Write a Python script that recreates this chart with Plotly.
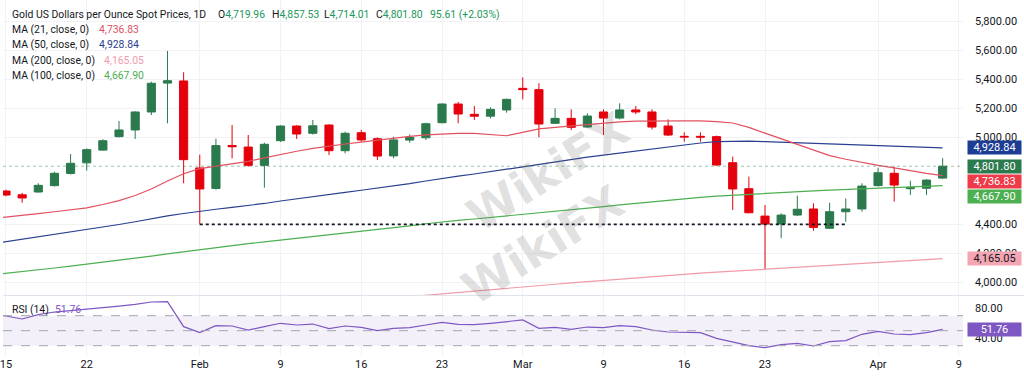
import plotly.graph_objects as go

FONT = "Roboto"
TXT = "#131722"

# ---------------- data ----------------
dates = [
    "2026-01-14", "2026-01-15", "2026-01-16", "2026-01-19", "2026-01-20", "2026-01-21", "2026-01-22",
    "2026-01-23", "2026-01-26", "2026-01-27", "2026-01-28", "2026-01-29", "2026-01-30",
    "2026-02-02", "2026-02-03", "2026-02-04", "2026-02-05", "2026-02-06",
    "2026-02-09", "2026-02-10", "2026-02-11", "2026-02-12", "2026-02-13",
    "2026-02-16", "2026-02-17", "2026-02-18", "2026-02-19", "2026-02-20",
    "2026-02-23", "2026-02-24", "2026-02-25", "2026-02-26", "2026-02-27",
    "2026-03-02", "2026-03-03", "2026-03-04", "2026-03-05", "2026-03-06",
    "2026-03-09", "2026-03-10", "2026-03-11", "2026-03-12", "2026-03-13",
    "2026-03-16", "2026-03-17", "2026-03-18", "2026-03-19", "2026-03-20",
    "2026-03-23", "2026-03-24", "2026-03-25", "2026-03-26", "2026-03-27",
    "2026-03-30", "2026-03-31", "2026-04-01", "2026-04-02",
    "2026-04-06", "2026-04-07", "2026-04-08",
]
future_dates = ["2026-04-09"]
candle_dates = dates[1:]

opens = [4631, 4605, 4624, 4668, 4752, 4825, 4913, 5006, 5052, 5176, 5375, 5390,
         4790, 4648, 4945, 4934, 4808, 4978, 5079, 5029, 5086, 4909, 5033, 4992, 4873,
         4982, 4998, 5102, 5231, 5160, 5147, 5190, 5339, 5330, 5098, 5132, 5072, 5176,
         5134, 5190, 5176, 5079, 5008, 5008, 5006, 4826, 4647, 4458, 4403, 4465, 4507,
         4374, 4488, 4507, 4668, 4753, 4647, 4650, 4719.96]
highs = [4640, 4618, 4684, 4764, 4886, 4925, 4988, 5114, 5181, 5385, 5597, 5450,
         4881, 4992, 5086, 5017, 4964, 5084, 5085, 5121, 5091, 5040, 5052, 5001, 5006,
         5022, 5102, 5236, 5245, 5217, 5208, 5268, 5415, 5374, 5201, 5194, 5167, 5194,
         5236, 5217, 5194, 5125, 5036, 5036, 5013, 4868, 4730, 4534, 4477, 4599, 4546,
         4550, 4580, 4684, 4792, 4799, 4702, 4712, 4857.53]
lows = [4595, 4550, 4620, 4662, 4745, 4771, 4908, 5000, 4990, 5155, 5098, 4684,
        4401, 4640, 4856, 4799, 4654, 4969, 4990, 5020, 4879, 4891, 4971, 4845, 4856,
        4964, 4983, 5098, 5098, 5121, 5132, 5171, 5263, 5001, 5093, 5052, 5065, 5017,
        5125, 5162, 5056, 5010, 4971, 4971, 4805, 4500, 4477, 4091, 4305, 4458, 4357,
        4368, 4419, 4488, 4662, 4557, 4603, 4603, 4714.01]
closes = [4603, 4583, 4670, 4753, 4822, 4916, 4978, 5052, 5176, 5374, 5392, 4847,
          4645, 4944, 4936, 4808, 4953, 5079, 5024, 5081, 4909, 5029, 4983, 4872, 4983,
          5001, 5095, 5231, 5162, 5147, 5194, 5263, 5330, 5093, 5132, 5070, 5148, 5134,
          5190, 5176, 5072, 5017, 5004, 5003, 4810, 4645, 4481, 4403, 4465, 4505, 4380,
          4488, 4507, 4665, 4757, 4672, 4653, 4706.19, 4801.80]

ma21 = [4440, 4450, 4462, 4475, 4488, 4500, 4515, 4538, 4565, 4600, 4645, 4700, 4750,
        4785, 4800, 4815, 4835, 4860, 4885, 4905, 4925, 4942, 4955, 4968, 4982, 4995,
        5008, 5018, 5025, 5029, 5029, 5020, 5012, 5035, 5060, 5070, 5080, 5090, 5100,
        5108, 5113, 5115, 5115, 5115, 5114, 5110, 5100, 5070, 5030, 4990, 4950, 4910,
        4875, 4850, 4828, 4808, 4790, 4770, 4752, 4736.83]
ma50 = [4265, 4282, 4297, 4313, 4329, 4345, 4362, 4382, 4400, 4419, 4440, 4460, 4476,
        4492, 4505, 4518, 4530, 4545, 4562, 4578, 4594, 4608, 4622, 4636, 4650, 4666,
        4682, 4700, 4718, 4733, 4748, 4765, 4782, 4800, 4818, 4835, 4850, 4864, 4878,
        4892, 4907, 4922, 4937, 4950, 4962, 4972, 4975, 4975, 4972, 4968, 4964, 4960,
        4957, 4954, 4950, 4946, 4942, 4938, 4934, 4928.84]
ma100 = [4052, 4063, 4075, 4087, 4100, 4113, 4126, 4140, 4153, 4167, 4182, 4197, 4212,
         4226, 4240, 4255, 4268, 4280, 4292, 4303, 4315, 4327, 4340, 4352, 4365, 4378,
         4391, 4405, 4418, 4428, 4438, 4448, 4458, 4468, 4478, 4489, 4500, 4512, 4523,
         4535, 4546, 4558, 4569, 4578, 4587, 4595, 4602, 4608, 4615, 4621, 4627, 4632,
         4637, 4642, 4647, 4652, 4656, 4660, 4664, 4667.90]
ma200 = [None] * 25 + [3893, 3903, 3913, 3922, 3932, 3941, 3951, 3960, 3969, 3978,
                       3988, 3997, 4006, 4015, 4024, 4033, 4042, 4050, 4057, 4064,
                       4071, 4078, 4085, 4092, 4099, 4106, 4114, 4121, 4128, 4134,
                       4140, 4147, 4153, 4159, 4165.05]
rsi = [72.0, 69.6, 65.6, 71.4, 74.9, 76.7, 78.9, 80.7, 82.9, 85.2, 88.3, 88.7, 55.4,
       47.4, 56.7, 56.3, 50.9, 55.4, 59.9, 57.6, 58.9, 52.7, 56.3, 54.5, 50.0, 53.2,
       54.0, 57.6, 61.2, 58.5, 58.0, 59.9, 62.0, 64.3, 53.2, 54.5, 51.8, 54.9, 54.0,
       56.7, 55.4, 50.9, 48.3, 47.4, 47.4, 39.8, 34.5, 30.0, 27.4, 31.4, 33.2, 29.6,
       35.4, 36.7, 45.2, 49.2, 45.6, 44.7, 47.4, 51.76]

support_dates = ["2026-02-02", "2026-03-30"]
support_levels = [4401, 4401]

tick_dates = ["2026-01-15", "2026-01-22", "2026-02-02", "2026-02-09", "2026-02-16",
              "2026-02-23", "2026-03-02", "2026-03-09", "2026-03-16", "2026-03-23",
              "2026-04-01", "2026-04-09"]
tick_labels = ["15", "22", "Feb", "9", "16", "23", "Mar", "9", "16", "23", "Apr", "9"]
price_ticks = [4000, 4200, 4400, 5000, 5200, 5400, 5600, 5800]
rsi_ticks = [40, 80]
rsi_bands = [30, 50, 70]

title_text = "Gold US Dollars per Ounce Spot Prices, 1D"
change_text = "95.61 (+2.03%)"
ma_labels = ["MA (21, close, 0)", "MA (50, close, 0)", "MA (200, close, 0)", "MA (100, close, 0)"]
ma_last = [ma21[-1], ma50[-1], ma200[-1], ma100[-1]]

# ---------------- colours ----------------
UP = "#2b7a4d"
DOWN = "#e5000c"
C21 = "#e2505f"
C50 = "#2a3f8f"
C200 = "#f19aa9"
C100 = "#4caf50"
CRSI = "#7e57c2"
HDR_GREEN = "#22975a"
GRID = "#f0f2f6"
LEG = 10.4

fig = go.Figure()

# category registration (includes the future tick day)
fig.add_trace(go.Scatter(x=dates + future_dates, y=[None] * (len(dates) + 1),
                         mode="markers", showlegend=False, hoverinfo="skip",
                         xaxis="x", yaxis="y2"))

for vals, col in [(ma200, C200), (ma100, C100), (ma50, C50), (ma21, C21)]:
    fig.add_trace(go.Scatter(x=dates, y=vals, mode="lines", line=dict(color=col, width=1.2),
                             showlegend=False, hoverinfo="skip", xaxis="x", yaxis="y"))

fig.add_trace(go.Scatter(x=support_dates, y=support_levels, mode="lines",
                         line=dict(color=TXT, width=1.6, dash="dot"),
                         showlegend=False, hoverinfo="skip", xaxis="x", yaxis="y"))

fig.add_trace(go.Candlestick(
    x=candle_dates, open=opens, high=highs, low=lows, close=closes,
    increasing=dict(line=dict(color=UP, width=1), fillcolor=UP),
    decreasing=dict(line=dict(color=DOWN, width=1), fillcolor=DOWN),
    whiskerwidth=0, showlegend=False, hoverinfo="skip", xaxis="x", yaxis="y"))

fig.add_trace(go.Scatter(x=dates, y=rsi, mode="lines", line=dict(color=CRSI, width=1.2),
                         showlegend=False, hoverinfo="skip", xaxis="x", yaxis="y2"))

H = 379
PLOT_H = 356
main_bottom_px = 295
rsi_top_px = 296

shapes = []
shapes.append(dict(type="rect", xref="x domain", x0=0, x1=1, yref="y2", y0=rsi_bands[0], y1=rsi_bands[-1],
                   fillcolor="rgba(126,87,194,0.09)", line=dict(width=0), layer="below"))
for b in rsi_bands:
    shapes.append(dict(type="line", xref="x domain", x0=0, x1=1, yref="y2", y0=b, y1=b,
                       line=dict(color="#a3a6af", width=1, dash="dash")))
shapes.append(dict(type="line", xref="x domain", x0=0, x1=1, yref="y", y0=closes[-1], y1=closes[-1],
                   line=dict(color="rgba(43,122,77,0.45)", width=1, dash="dot")))
shapes.append(dict(type="line", xref="paper", x0=0, x1=1.07, yref="paper",
                   y0=1 - 295.5 / PLOT_H, y1=1 - 295.5 / PLOT_H,
                   line=dict(color="#e0e3eb", width=1)))

ann = []
def txt(text, xpx, ypx, color=TXT, size=LEG):
    return dict(text=text, xref="paper", x=0, xanchor="left", xshift=xpx,
                yref="paper", y=1, yanchor="middle", yshift=-ypx, showarrow=False,
                font=dict(family=FONT, size=size, color=color))

ann.append(txt(title_text, 7, 14.5))
for lab, val, xp in [("O", opens[-1], 213), ("H", highs[-1], 267), ("L", lows[-1], 319), ("C", closes[-1], 371)]:
    ann.append(txt(f'{lab}<span style="color:{HDR_GREEN}">{val:,.2f}</span>', xp, 14.5))
ann.append(txt(change_text, 425, 14.5, color=HDR_GREEN))

ma_cols = [C21, C50, C200, C100]
ma_y = [29.5, 44.5, 60, 75.5]
ma_vx = [94, 94, 99, 99]
for lab, val, col, yp, vx in zip(ma_labels, ma_last, ma_cols, ma_y, ma_vx):
    ann.append(txt(lab, 7, yp))
    ann.append(txt(f"{val:,.2f}", vx, yp, color=col))

ann.append(txt("RSI (14)", 7, 309))
ann.append(txt(f"{rsi[-1]:.2f}", 50, 309, color=CRSI))

def box(val, yref, bg, fg="white", yshift=0, fmt="{:,.2f}"):
    return dict(text=fmt.format(val), xref="paper", x=1, xanchor="left", xshift=4,
                yref=yref, y=val, yanchor="middle", yshift=yshift, showarrow=False,
                bgcolor=bg, width=53, height=13, borderpad=0, align="center",
                font=dict(family=FONT, size=11, color=fg))

ann.append(box(ma50[-1], "y", "#1d3d94"))
ann.append(box(closes[-1], "y", UP))
ann.append(box(ma21[-1], "y", "#ef3a49", yshift=-5.5))
ann.append(box(ma100[-1], "y", C100, yshift=-10.5))
ann.append(box(ma200[-1], "y", "#f4a6b3", fg=TXT))
ann.append(box(rsi[-1], "y2", CRSI, fmt="{:.2f}"))

# watermark
for wx, wy, s in [(545, 172, 46), (540, 245, 46)]:
    ann.append(dict(text="<b>WikiFX</b>", xref="paper", x=0, xanchor="center", xshift=wx,
                    yref="paper", y=1, yanchor="middle", yshift=-wy, showarrow=False,
                    textangle=-32, font=dict(family="DejaVu Sans", size=s, color="rgba(120,120,120,0.22)")))

fig.update_layout(
    width=1024, height=H,
    margin=dict(l=0, r=61, t=0, b=H - PLOT_H),
    paper_bgcolor="white", plot_bgcolor="white",
    showlegend=False, hovermode=False,
    font=dict(family=FONT, size=11, color=TXT),
    boxgap=0.28,
    xaxis=dict(type="category", categoryorder="array", categoryarray=dates + future_dates,
               range=[0.815, 60.26], anchor="y2", tickmode="array", tickvals=tick_dates,
               ticktext=tick_labels, showgrid=True, gridcolor=GRID, gridwidth=1,
               ticks="", showline=False, zeroline=False, rangeslider=dict(visible=False),
               tickfont=dict(family=FONT, size=11, color=TXT)),
    yaxis=dict(domain=[1 - main_bottom_px / PLOT_H, 1], range=[3913.7, 5948.3], side="right",
               anchor="x", tickmode="array", tickvals=price_ticks, tickformat=",.2f",
               showgrid=True, gridcolor=GRID, zeroline=False, ticks="", showline=False,
               ticklabelstandoff=11, tickfont=dict(family=FONT, size=11, color=TXT)),
    yaxis2=dict(domain=[0, 1 - rsi_top_px / PLOT_H], range=[16.27, 96.27], side="right",
                anchor="x", tickmode="array", tickvals=rsi_ticks, tickformat=".2f",
                showgrid=False, zeroline=False, ticks="", showline=False,
                ticklabelstandoff=11, tickfont=dict(family=FONT, size=11, color=TXT)),
    shapes=shapes, annotations=ann,
)

fig.write_html("out.html")
